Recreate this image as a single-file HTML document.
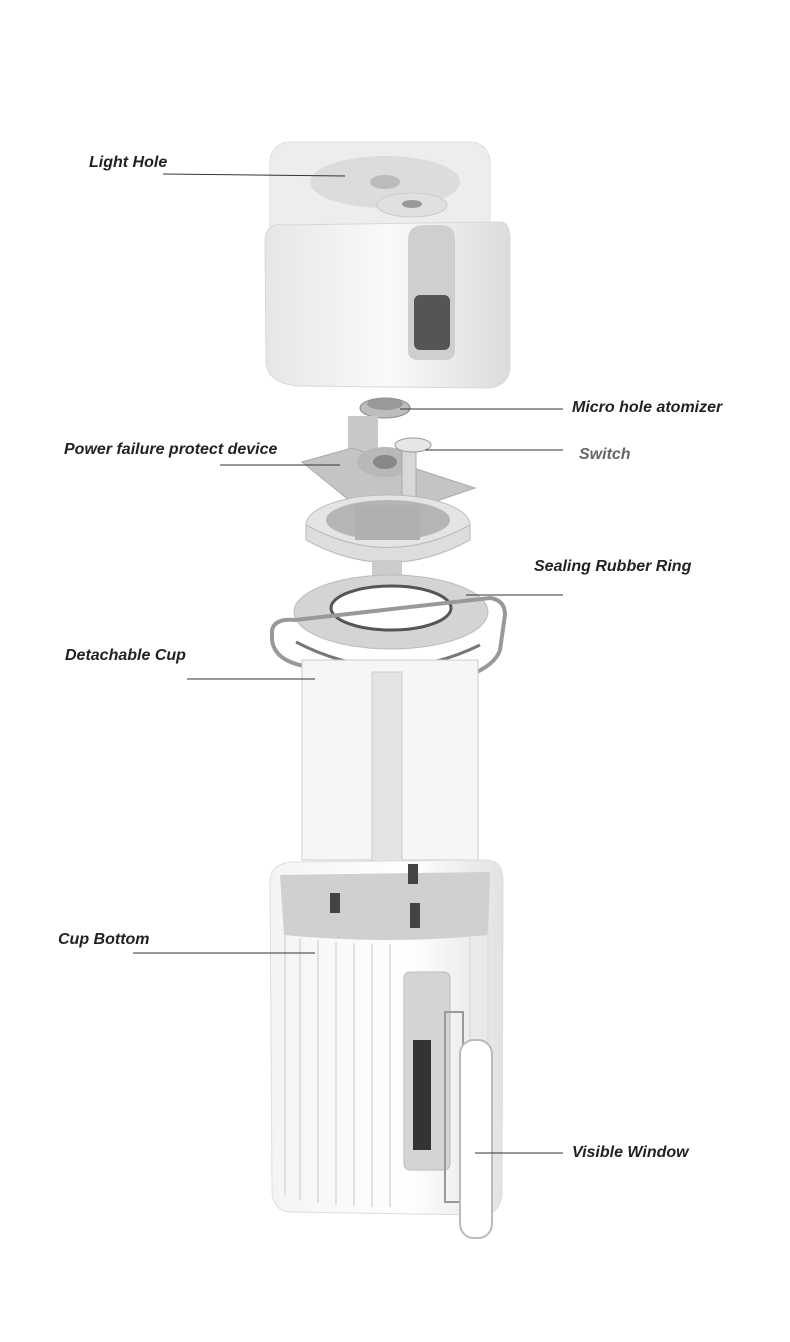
<!DOCTYPE html>
<html><head><meta charset="utf-8"><style>
html,body{margin:0;padding:0;background:#fff;}
body{width:790px;height:1342px;position:relative;overflow:hidden;}
svg{position:absolute;left:0;top:0;}
.l{position:absolute;font-family:"Liberation Sans",sans-serif;font-style:italic;font-weight:bold;font-size:16px;color:#222;white-space:nowrap;}
</style></head><body>
<svg width="790" height="1342" viewBox="0 0 790 1342">
<defs>
<linearGradient id="g1" x1="0" x2="1"><stop offset="0" stop-color="#e6e6e6"/><stop offset=".5" stop-color="#fafafa"/><stop offset="1" stop-color="#dcdcdc"/></linearGradient>
<linearGradient id="g2" x1="0" x2="1"><stop offset="0" stop-color="#f4f4f4"/><stop offset=".6" stop-color="#fff"/><stop offset="1" stop-color="#e2e2e2"/></linearGradient>
</defs>
<rect x="270" y="142" width="220" height="120" rx="20" fill="#ededed" stroke="#ddd"/>
<ellipse cx="385" cy="182" rx="75" ry="26" fill="#dcdcdc"/>
<ellipse cx="385" cy="182" rx="15" ry="7" fill="#bbb"/>
<ellipse cx="412" cy="205" rx="35" ry="12" fill="#e0e0e0" stroke="#ccc"/>
<ellipse cx="412" cy="204" rx="10" ry="4" fill="#999"/>
<path d="M265 240 Q266 222 285 225 L500 222 Q510 222 510 240 L510 365 Q510 385 490 388 L300 386 Q266 384 266 360 Z" fill="url(#g1)" stroke="#d8d8d8"/>
<path d="M408 240 Q408 225 425 225 L440 225 Q455 225 455 240 L455 350 Q455 360 445 360 L418 360 Q408 360 408 350 Z" fill="#cfcfcf"/>
<rect x="414" y="295" width="36" height="55" rx="6" fill="#555"/>
<ellipse cx="385" cy="408" rx="25" ry="10" fill="#bdbdbd" stroke="#888"/>
<ellipse cx="385" cy="404" rx="18" ry="6" fill="#999"/>
<rect x="348" y="416" width="30" height="45" fill="#c8c8c8"/>
<polygon points="302,462 352,448 475,488 425,505 355,505" fill="#c4c4c4" stroke="#aaa"/>
<ellipse cx="385" cy="462" rx="28" ry="15" fill="#b8b8b8"/>
<ellipse cx="385" cy="462" rx="12" ry="7" fill="#888"/>
<rect x="402" y="440" width="14" height="62" fill="#d8d8d8" stroke="#aaa"/>
<ellipse cx="413" cy="445" rx="18" ry="7" fill="#e6e6e6" stroke="#999"/>
<ellipse cx="388" cy="525" rx="82" ry="30" fill="#e4e4e4" stroke="#bbb"/>
<path d="M306 525 L306 540 Q388 585 470 540 L470 525 Q388 570 306 525Z" fill="#ddd" stroke="#bbb"/>
<ellipse cx="388" cy="520" rx="62" ry="20" fill="#b5b5b5"/>
<rect x="355" y="505" width="65" height="35" fill="#b0b0b0"/>
<rect x="372" y="560" width="30" height="20" fill="#ccc"/>
<ellipse cx="391" cy="612" rx="97" ry="37" fill="#d4d4d4" stroke="#bbb"/>
<ellipse cx="391" cy="608" rx="60" ry="22" fill="#fff" stroke="#555" stroke-width="3"/>
<path d="M272 630 Q275 618 295 620 L490 598 Q505 600 505 615 L500 650 Q495 665 470 675 L320 668 Q275 665 272 640Z" fill="none" stroke="#999" stroke-width="4"/>
<path d="M296 642 Q388 690 480 645" fill="none" stroke="#777" stroke-width="3"/>
<rect x="302" y="660" width="176" height="200" fill="#f6f6f6" stroke="#ccc"/>
<rect x="372" y="672" width="30" height="220" fill="#e4e4e4" stroke="#ccc"/>
<path d="M270 880 Q272 862 295 862 L485 860 Q503 860 503 880 L502 1195 Q500 1215 480 1215 L290 1212 Q272 1210 272 1190Z" fill="url(#g2)" stroke="#ddd"/>
<path d="M280 875 L490 872 L488 935 Q388 945 284 935Z" fill="#d0d0d0"/>
<g stroke="#e0e0e0" stroke-width="2">
<line x1="285" y1="935" x2="285" y2="1195"/><line x1="300" y1="938" x2="300" y2="1200"/><line x1="318" y1="940" x2="318" y2="1203"/><line x1="336" y1="942" x2="336" y2="1205"/><line x1="354" y1="943" x2="354" y2="1206"/><line x1="372" y1="944" x2="372" y2="1207"/><line x1="390" y1="944" x2="390" y2="1207"/><line x1="470" y1="935" x2="470" y2="1200"/><line x1="488" y1="932" x2="488" y2="1195"/>
</g>
<g fill="#444"><rect x="330" y="893" width="10" height="20"/><rect x="408" y="864" width="10" height="20"/><rect x="410" y="903" width="10" height="25"/></g>
<rect x="404" y="972" width="46" height="198" rx="6" fill="#d4d4d4" stroke="#bbb"/>
<rect x="413" y="1040" width="18" height="110" fill="#333"/>
<rect x="445" y="1012" width="18" height="190" fill="none" stroke="#999" stroke-width="2"/>
<rect x="460" y="1040" width="32" height="198" rx="14" fill="#fff" stroke="#bbb" stroke-width="2"/>
<g stroke="#333" stroke-width="1">
<line x1="163" y1="174" x2="345" y2="176"/>
<line x1="400" y1="409" x2="563" y2="409"/>
<line x1="220" y1="465" x2="340" y2="465"/>
<line x1="425" y1="450" x2="563" y2="450"/>
<line x1="466" y1="595" x2="563" y2="595"/>
<line x1="187" y1="679" x2="315" y2="679"/>
<line x1="133" y1="953" x2="315" y2="953"/>
<line x1="475" y1="1153" x2="563" y2="1153"/>
</g>
</svg>
<div class="l" style="left:89px;top:154px">Light Hole</div>
<div class="l" style="left:572px;top:399px">Micro hole atomizer</div>
<div class="l" style="left:64px;top:441px">Power failure protect device</div>
<div class="l" style="left:579px;top:446px;color:#666">Switch</div>
<div class="l" style="left:534px;top:558px">Sealing Rubber Ring</div>
<div class="l" style="left:65px;top:647px">Detachable Cup</div>
<div class="l" style="left:58px;top:931px">Cup Bottom</div>
<div class="l" style="left:572px;top:1144px">Visible Window</div>
</body></html>
